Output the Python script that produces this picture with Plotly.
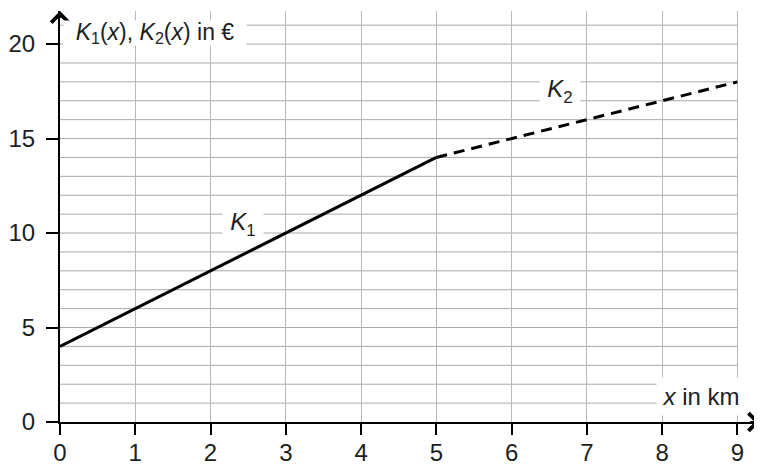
"""
Trace des fonctions de coût K1 et K2 (en euros) en fonction de la distance x (en km).
"""

import plotly.graph_objects as go

# données
x_k1 = [0, 5]
k1 = [4, 14]
x_k2 = [5, 9]
k2 = [14, 18]
x_ticks = [0, 1, 2, 3, 4, 5, 6, 7, 8, 9]
y_ticks = [0, 5, 10, 15, 20]
y_grid = list(range(1, 22))

FONT = "Liberation Sans, Arial, Helvetica, sans-serif"
TXT = "#1e1e1e"
PAGE = 8  # marge par défaut du <body> de la page


def label(fig, text, x, y, w, h, size=24, **kw):
    """Ajoute une étiquette sur fond blanc."""
    fig.add_annotation(x=x, y=y, xref="x", yref="y", text=text, showarrow=False,
                       bgcolor="white", width=w, height=h, borderpad=0,
                       font=dict(family=FONT, size=size, color=TXT), **kw)


def main():
    """Construit la figure."""
    fig = go.Figure()

    # grille horizontale (s'arrête à x = 9)
    for yv in y_grid:
        fig.add_shape(type="line", x0=0, x1=x_ticks[-1], y0=yv, y1=yv,
                      xref="x", yref="y", layer="below",
                      line=dict(color="#a9a9a9", width=1))

    fig.add_trace(go.Scatter(x=x_k1, y=k1, mode="lines",
                             line=dict(color="black", width=3), hoverinfo="skip"))
    fig.add_trace(go.Scatter(x=x_k2, y=k2, mode="lines",
                             line=dict(color="black", width=3, dash="11px,7px"),
                             hoverinfo="skip"))

    # flèches des axes
    fig.add_annotation(x=0, y=21.75, ax=0, ay=21.3, xref="x", yref="y", axref="x", ayref="y",
                       text="", showarrow=True, arrowhead=4, arrowsize=1.7,
                       arrowwidth=2, arrowcolor="black", standoff=0, startstandoff=0)
    fig.add_annotation(x=9.3, y=0, ax=9.15, ay=0, xref="x", yref="y", axref="x", ayref="y",
                       text="", showarrow=True, arrowhead=4, arrowsize=1.7,
                       arrowwidth=2, arrowcolor="black", standoff=0, startstandoff=0)

    label(fig, "<i>K</i><sub>1</sub>(<i>x</i>), <i>K</i><sub>2</sub>(<i>x</i>) in €",
          0, 20.56, 182, 24, size=23, xanchor="left", xshift=3)
    label(fig, "<i>x</i> in km", 8.52, 1.33, 88, 37)
    label(fig, "<i>K</i><sub>1</sub>", 2.43, 10.5, 40, 30)
    label(fig, "<i>K</i><sub>2</sub>", 6.64, 17.5, 40, 30)

    fig.update_layout(
        width=762 - PAGE, height=467 - PAGE,
        margin=dict(l=60 - PAGE, r=2, t=11 - PAGE, b=45, autoexpand=False),
        plot_bgcolor="white", paper_bgcolor="white",
        showlegend=False,
        font=dict(family=FONT, size=24, color=TXT),
    )
    fig.update_xaxes(range=[0, 9.3], tickvals=x_ticks, showgrid=True,
                     gridcolor="#b8b8b8", gridwidth=1.2, zeroline=False,
                     showline=True, linecolor="black", linewidth=2,
                     ticks="outside", ticklen=11, tickwidth=2, tickcolor="black",
                     ticklabelstandoff=-3, automargin=False,
                     tickfont=dict(family=FONT, size=24, color=TXT))
    fig.update_yaxes(range=[0, 21.75], tickvals=y_ticks, showgrid=False,
                     zeroline=False, showline=True, linecolor="black", linewidth=2,
                     ticks="outside", ticklen=12, tickwidth=2, tickcolor="black",
                     ticklabelstandoff=6, automargin=False,
                     tickfont=dict(family=FONT, size=24, color=TXT))

    fig.write_html("out.html")


if __name__ == "__main__":
    main()
